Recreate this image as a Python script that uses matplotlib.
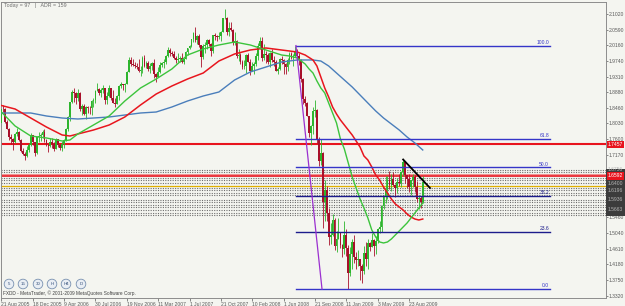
"""
GBPUSD weekly chart (MetaTrader screenshot look): candles, three moving
averages, a fibonacci retracement of the 2008 drop, S/R levels and a trendline.
"""

import numpy as np
import matplotlib.pyplot as plt
from matplotlib.patches import Rectangle, Circle
from matplotlib.transforms import blended_transform_factory

plt.rcParams["font.family"] = ["Liberation Sans", "DejaVu Sans"]

# weekly bars, index 0 = week of 21 Aug 2005
opens = [
    1.7960, 1.8040, 1.8420, 1.8410, 1.8080, 1.7890, 1.7650, 1.7610,
    1.7520, 1.7750, 1.7790, 1.7580, 1.7280, 1.7190, 1.7150, 1.7300,
    1.7450, 1.7700, 1.7510, 1.7220, 1.7670, 1.7690, 1.7700, 1.7790,
    1.7580, 1.7440, 1.7400, 1.7520, 1.7480, 1.7340, 1.7590, 1.7440,
    1.7370, 1.7470, 1.7570, 1.7870, 1.8210, 1.8620, 1.8890, 1.8870,
    1.8720, 1.8870, 1.8430, 1.8500, 1.8300, 1.8490, 1.8460, 1.8440,
    1.8650, 1.8680, 1.8920, 1.8970, 1.8860, 1.8930, 1.8990, 1.8660,
    1.8780, 1.8990, 1.8720, 1.8590, 1.8560, 1.8790, 1.9040, 1.9100,
    1.9080, 1.9110, 1.9440, 1.9770, 1.9640, 1.9630, 1.9610, 1.9580,
    1.9450, 1.9500, 1.9830, 1.9600, 1.9670, 1.9510, 1.9610, 1.9670,
    1.9380, 1.9310, 1.9430, 1.9630, 1.9680, 1.9700, 1.9870, 2.0030,
    1.9960, 1.9930, 1.9820, 1.9760, 1.9780, 1.9810, 1.9700, 1.9800,
    1.9990, 2.0080, 2.0140, 2.0330, 2.0510, 2.0300, 2.0410, 2.0160,
    1.9850, 2.0140, 2.0170, 2.0310, 2.0190, 2.0010, 2.0440, 2.0420,
    2.0380, 2.0420, 2.0530, 2.0900, 2.0910, 2.0520, 2.0640, 2.0580,
    2.0230, 2.0270, 1.9870, 1.9890, 1.9720, 1.9560, 1.9590, 1.9900,
    1.9720, 1.9450, 1.9590, 1.9650, 1.9860, 2.0150, 2.0290, 1.9820,
    1.9940, 1.9900, 1.9720, 1.9950, 1.9750, 1.9700, 1.9470, 1.9510,
    1.9800, 1.9750, 1.9660, 1.9570, 1.9770, 1.9930, 1.9810, 1.9860,
    1.9980, 1.9880, 1.9770, 1.9250, 1.8700, 1.8600, 1.8230, 1.7770,
    1.7970, 1.8370, 1.8390, 1.7590, 1.7000, 1.7220, 1.5880, 1.6200,
    1.5590, 1.4920, 1.4980, 1.5380, 1.4680, 1.4870, 1.5030, 1.4700,
    1.4600, 1.4970, 1.4630, 1.3950, 1.4460, 1.4790, 1.4390, 1.4290,
    1.4310, 1.4130, 1.3990, 1.4500, 1.4320, 1.4760, 1.4650, 1.4840,
    1.4680, 1.4820, 1.5150, 1.5200, 1.5780, 1.6030, 1.6200, 1.6470,
    1.6340, 1.6510, 1.6350, 1.6270, 1.6420, 1.6410, 1.6690, 1.6970,
    1.6610, 1.6510, 1.6300, 1.6470, 1.6560, 1.6290, 1.5960, 1.5980,
    1.5880,
]
highs = [
    1.8080, 1.8440, 1.8535, 1.8450, 1.8120, 1.7900, 1.7740, 1.7620,
    1.7780, 1.7910, 1.7810, 1.7600, 1.7350, 1.7260, 1.7400, 1.7500,
    1.7780, 1.7720, 1.7530, 1.7690, 1.7790, 1.7760, 1.7840, 1.7870,
    1.7600, 1.7480, 1.7620, 1.7630, 1.7520, 1.7620, 1.7600, 1.7480,
    1.7550, 1.7600, 1.7900, 1.8220, 1.8620, 1.8950, 1.9000, 1.8880,
    1.8960, 1.8900, 1.8560, 1.8560, 1.8510, 1.8500, 1.8500, 1.8680,
    1.8720, 1.8930, 1.9130, 1.8990, 1.8990, 1.9080, 1.8990, 1.8880,
    1.9080, 1.9000, 1.8950, 1.8720, 1.8810, 1.9090, 1.9150, 1.9110,
    1.9130, 1.9450, 1.9850, 1.9850, 1.9800, 1.9710, 1.9670, 1.9790,
    1.9590, 1.9880, 1.9910, 1.9740, 1.9730, 1.9680, 1.9710, 1.9780,
    1.9420, 1.9560, 1.9710, 1.9720, 1.9780, 1.9910, 2.0130, 2.0080,
    2.0010, 2.0000, 1.9870, 1.9960, 1.9880, 1.9950, 1.9830, 2.0000,
    2.0090, 2.0180, 2.0350, 2.0530, 2.0655, 2.0450, 2.0470, 2.0170,
    2.0190, 2.0260, 2.0330, 2.0330, 2.0230, 2.0440, 2.0500, 2.0440,
    2.0540, 2.0550, 2.0900, 2.1160, 2.0950, 2.0800, 2.0800, 2.0620,
    2.0520, 2.0310, 2.0050, 1.9960, 1.9760, 1.9760, 1.9920, 1.9960,
    1.9780, 1.9700, 1.9710, 1.9960, 2.0220, 2.0380, 2.0400, 2.0190,
    2.0010, 1.9960, 1.9990, 2.0060, 1.9880, 1.9750, 1.9580, 1.9830,
    1.9870, 1.9790, 1.9690, 1.9830, 1.9980, 1.9990, 1.9940, 2.0157,
    2.0070, 1.9950, 1.9800, 1.9270, 1.8780, 1.8610, 1.8240, 1.7990,
    1.8480, 1.8660, 1.8410, 1.7670, 1.7610, 1.7250, 1.6480, 1.6310,
    1.5710, 1.5300, 1.5550, 1.5440, 1.5100, 1.5450, 1.5050, 1.4740,
    1.5350, 1.5130, 1.4710, 1.4640, 1.4880, 1.4985, 1.4520, 1.4580,
    1.4330, 1.4180, 1.4670, 1.4780, 1.4860, 1.4780, 1.5030, 1.4860,
    1.4960, 1.5180, 1.5360, 1.5810, 1.6080, 1.6600, 1.6600, 1.6740,
    1.6650, 1.6700, 1.6370, 1.6530, 1.6650, 1.6740, 1.7043, 1.6990,
    1.6630, 1.6660, 1.6490, 1.6660, 1.6630, 1.6460, 1.6080, 1.6050,
    1.6600,
]
lows = [
    1.7930, 1.7950, 1.8350, 1.8050, 1.7870, 1.7580, 1.7480, 1.7310,
    1.7500, 1.7690, 1.7560, 1.7250, 1.7160, 1.7040, 1.7110, 1.7240,
    1.7420, 1.7450, 1.7150, 1.7180, 1.7510, 1.7560, 1.7640, 1.7520,
    1.7420, 1.7250, 1.7380, 1.7370, 1.7270, 1.7320, 1.7380, 1.7300,
    1.7280, 1.7350, 1.7560, 1.7810, 1.8100, 1.8580, 1.8620, 1.8560,
    1.8640, 1.8380, 1.8270, 1.8260, 1.8150, 1.8320, 1.8300, 1.8250,
    1.8470, 1.8590, 1.8920, 1.8800, 1.8740, 1.8860, 1.8570, 1.8560,
    1.8760, 1.8670, 1.8590, 1.8470, 1.8560, 1.8660, 1.9010, 1.8950,
    1.8880, 1.9100, 1.9430, 1.9600, 1.9590, 1.9550, 1.9520, 1.9440,
    1.9320, 1.9410, 1.9580, 1.9540, 1.9470, 1.9420, 1.9480, 1.9280,
    1.9150, 1.9310, 1.9420, 1.9570, 1.9550, 1.9640, 1.9850, 1.9860,
    1.9880, 1.9800, 1.9690, 1.9710, 1.9710, 1.9690, 1.9640, 1.9790,
    1.9900, 2.0050, 2.0130, 2.0250, 2.0260, 2.0200, 2.0130, 1.9580,
    1.9780, 1.9950, 2.0050, 2.0150, 1.9880, 1.9960, 2.0300, 2.0270,
    2.0330, 2.0270, 2.0530, 2.0870, 2.0440, 2.0410, 2.0560, 2.0180,
    2.0170, 1.9820, 1.9730, 1.9650, 1.9520, 1.9520, 1.9400, 1.9710,
    1.9360, 1.9450, 1.9380, 1.9590, 1.9750, 2.0050, 1.9730, 1.9770,
    1.9680, 1.9640, 1.9580, 1.9720, 1.9590, 1.9470, 1.9390, 1.9480,
    1.9640, 1.9380, 1.9370, 1.9460, 1.9650, 1.9780, 1.9610, 1.9840,
    1.9830, 1.9630, 1.9150, 1.8570, 1.8510, 1.8220, 1.7650, 1.7445,
    1.7740, 1.8200, 1.7500, 1.6870, 1.6880, 1.5170, 1.5360, 1.5360,
    1.4710, 1.4720, 1.4950, 1.4560, 1.4520, 1.4860, 1.4620, 1.4380,
    1.4450, 1.4400, 1.3503, 1.3870, 1.4050, 1.4220, 1.4050, 1.4130,
    1.3740, 1.3657, 1.3920, 1.4140, 1.4050, 1.4540, 1.4640, 1.4410,
    1.4460, 1.4750, 1.5030, 1.5050, 1.5700, 1.5850, 1.5960, 1.6250,
    1.6170, 1.6320, 1.6020, 1.6120, 1.6320, 1.6280, 1.6590, 1.6410,
    1.6260, 1.6150, 1.6060, 1.6280, 1.6160, 1.5880, 1.5700, 1.5705,
    1.5850,
]
closes = [
    1.8040, 1.8420, 1.8410, 1.8080, 1.7890, 1.7650, 1.7610, 1.7520,
    1.7750, 1.7790, 1.7580, 1.7280, 1.7190, 1.7150, 1.7300, 1.7450,
    1.7700, 1.7510, 1.7220, 1.7670, 1.7690, 1.7700, 1.7790, 1.7580,
    1.7440, 1.7400, 1.7520, 1.7480, 1.7340, 1.7590, 1.7440, 1.7370,
    1.7470, 1.7570, 1.7870, 1.8210, 1.8620, 1.8890, 1.8870, 1.8720,
    1.8870, 1.8430, 1.8500, 1.8300, 1.8490, 1.8460, 1.8440, 1.8650,
    1.8680, 1.8920, 1.8970, 1.8860, 1.8930, 1.8990, 1.8660, 1.8780,
    1.8990, 1.8720, 1.8590, 1.8560, 1.8790, 1.9040, 1.9100, 1.9080,
    1.9110, 1.9440, 1.9770, 1.9640, 1.9630, 1.9610, 1.9580, 1.9450,
    1.9500, 1.9830, 1.9600, 1.9670, 1.9510, 1.9610, 1.9670, 1.9380,
    1.9310, 1.9430, 1.9630, 1.9680, 1.9700, 1.9870, 2.0030, 1.9960,
    1.9930, 1.9820, 1.9760, 1.9780, 1.9810, 1.9700, 1.9800, 1.9990,
    2.0080, 2.0140, 2.0330, 2.0510, 2.0300, 2.0410, 2.0160, 1.9850,
    2.0140, 2.0170, 2.0310, 2.0190, 2.0010, 2.0440, 2.0420, 2.0380,
    2.0420, 2.0530, 2.0900, 2.0910, 2.0520, 2.0640, 2.0580, 2.0230,
    2.0270, 1.9870, 1.9890, 1.9720, 1.9560, 1.9590, 1.9900, 1.9720,
    1.9450, 1.9590, 1.9650, 1.9860, 2.0150, 2.0290, 1.9820, 1.9940,
    1.9900, 1.9720, 1.9950, 1.9750, 1.9700, 1.9470, 1.9510, 1.9800,
    1.9750, 1.9660, 1.9570, 1.9770, 1.9930, 1.9810, 1.9860, 1.9980,
    1.9880, 1.9770, 1.9250, 1.8700, 1.8600, 1.8230, 1.7770, 1.7970,
    1.8370, 1.8390, 1.7590, 1.7000, 1.7220, 1.5880, 1.6200, 1.5590,
    1.4920, 1.4980, 1.5380, 1.4680, 1.4870, 1.5030, 1.4700, 1.4600,
    1.4970, 1.4630, 1.3950, 1.4460, 1.4790, 1.4390, 1.4290, 1.4310,
    1.4130, 1.3990, 1.4500, 1.4320, 1.4760, 1.4650, 1.4840, 1.4680,
    1.4820, 1.5150, 1.5200, 1.5780, 1.6030, 1.6200, 1.6470, 1.6340,
    1.6510, 1.6350, 1.6270, 1.6420, 1.6410, 1.6690, 1.6970, 1.6610,
    1.6510, 1.6300, 1.6470, 1.6560, 1.6290, 1.5960, 1.5980, 1.5880,
    1.6420,
]

# moving averages (week index -> price)
green_weeks = [0, 8, 16, 24, 32, 36, 40, 48, 56, 64, 72, 80, 88, 96, 104,
               112, 120, 128, 136, 144, 148, 152, 156, 158, 160, 162, 164,
               166, 168, 170, 172, 174, 176, 178, 180, 182, 184, 186, 188,
               190, 192, 194, 196, 198, 200, 202, 204, 206, 208, 210, 212,
               214, 216]
green_ma = [1.8396, 1.7959, 1.7685, 1.7631, 1.7549, 1.7576, 1.7740, 1.7986,
            1.8232, 1.8642, 1.8997, 1.9243, 1.9517, 1.9899, 2.0063, 2.0173,
            2.0255, 2.0173, 2.0036, 1.9899, 1.9872, 1.9817, 1.9653, 1.9517,
            1.9407, 1.9189, 1.8997, 1.8861, 1.8587, 1.8314, 1.8041, 1.7603,
            1.7330, 1.6947, 1.6564, 1.6264, 1.5963, 1.5717, 1.5444, 1.5116,
            1.4925, 1.4788, 1.4761, 1.4788, 1.4870, 1.4979, 1.5088, 1.5198,
            1.5307, 1.5444, 1.5581, 1.5717, 1.5854]

red_weeks = [0, 8, 16, 24, 32, 36, 40, 48, 56, 64, 72, 80, 88, 96, 104, 112,
             120, 128, 136, 144, 152, 156, 160, 162, 164, 166, 168, 170, 172,
             174, 176, 178, 180, 182, 184, 186, 188, 190, 192, 194, 196, 198,
             200, 202, 204, 206, 208, 210, 212, 214, 216]
red_ma = [1.8533, 1.8423, 1.8177, 1.7931, 1.7713, 1.7685, 1.7740, 1.7849,
          1.7986, 1.8205, 1.8533, 1.8833, 1.9052, 1.9243, 1.9407, 1.9735,
          1.9927, 2.0036, 2.0091, 2.0036, 1.9981, 1.9899, 1.9763, 1.9599,
          1.9298, 1.8997, 1.8751, 1.8478, 1.8287, 1.8123, 1.7986, 1.7849,
          1.7713, 1.7549, 1.7385, 1.7139, 1.7029, 1.6838, 1.6619, 1.6483,
          1.6291, 1.6127, 1.5963, 1.5827, 1.5745, 1.5663, 1.5553, 1.5471,
          1.5416, 1.5389, 1.5416]

blue_weeks = [0, 8, 16, 24, 32, 40, 48, 56, 64, 72, 80, 88, 96, 104, 112,
              120, 128, 136, 144, 152, 160, 164, 168, 172, 176, 180, 184,
              188, 192, 196, 200, 204, 208, 212, 216]
blue_ma = [1.8314, 1.8314, 1.8314, 1.8232, 1.8177, 1.8150, 1.8177, 1.8205,
           1.8259, 1.8314, 1.8341, 1.8478, 1.8642, 1.8779, 1.8888, 1.9216,
           1.9435, 1.9571, 1.9708, 1.9763, 1.9763, 1.9735, 1.9599, 1.9407,
           1.9216, 1.9025, 1.8806, 1.8587, 1.8369, 1.8177, 1.8013, 1.7849,
           1.7658, 1.7494, 1.7303]

# fibonacci retracement: Jul 2008 high -> Jan 2009 low
fib_high = 2.0157
fib_low = 1.3503
fib_levels = [100.0, 61.8, 50.0, 38.2, 23.6, 0.0]

# horizontal lines drawn on the chart
red_level = 1.7457
red_level2 = 1.6592
yellow_level = 1.6332
sr_levels = [1.6756, 1.6688, 1.6537, 1.6469, 1.6400, 1.6264, 1.6196,
             1.6127, 1.6059, 1.5936, 1.5868, 1.5799, 1.5731, 1.5663,
             1.5594, 1.5539]

# trendline off the Aug 2009 high
trend_x = [206, 219.7]
trend_y = [1.7043, 1.6264]

# axis labels
price_ticks = [2.1020, 2.0590, 2.0160, 1.9740, 1.9310, 1.8880, 1.8460,
               1.8030, 1.7600, 1.7170, 1.5460, 1.5040, 1.4610, 1.4180,
               1.3750, 1.3320]
date_weeks = [0, 17, 33, 49, 65, 81, 97, 113, 129, 145, 161, 177, 193, 209]
date_labels = ["21 Aug 2005", "18 Dec 2005", "9 Apr 2006", "30 Jul 2006",
               "19 Nov 2006", "11 Mar 2007", "1 Jul 2007", "21 Oct 2007",
               "10 Feb 2008", "1 Jun 2008", "21 Sep 2008", "11 Jan 2009",
               "3 May 2009", "23 Aug 2009"]
box_labels = ["1.6756", "1.6400", "1.6196", "1.5936", "1.5663"]

BG = "#f4f5f0"
BULL = "#2db52d"
BEAR = "#a8102a"
FS = 3.6

W, H = 625, 306
fig = plt.figure(figsize=(W / 100, H / 100), dpi=100)
fig.patch.set_facecolor(BG)
ax = fig.add_axes([1 / W, 8 / H, 605 / W, 296 / H])
ax.set_facecolor(BG)
XMIN, XMAX = 0.82, 309.5
ax.set_xlim(XMIN, XMAX)
ax.set_ylim(1.3257, 2.1348)

for sp in ax.spines.values():
    sp.set_color("#8c8c8c")
    sp.set_linewidth(0.7)
    sp.set_linestyle((0, (1, 1)))

# horizontal levels (behind the candles)
for lv in sr_levels:
    ax.axhline(lv, color="#6e6e6e", lw=0.8, ls=(0, (1, 1.2)), zorder=1)
ax.axhline(yellow_level, color="#e0b000", lw=0.9, zorder=1)
ax.axhline(red_level2 + 0.0055, color="#f08080", lw=0.6, zorder=1)
ax.axhline(red_level2, color="#e8141e", lw=1.2, zorder=1)
ax.axhline(red_level, color="#e8141e", lw=1.5, zorder=1)

# candles
x = np.arange(len(closes))
o = np.array(opens)
c = np.array(closes)
cols = np.where(c >= o, BULL, BEAR)
ax.vlines(x, lows, highs, colors=cols, lw=0.6, zorder=2)
body = np.maximum(np.abs(c - o), 0.0018)
ax.bar(x, body, bottom=np.minimum(o, c), width=0.9, color=cols,
       linewidth=0, zorder=3)

# moving averages
ax.plot(blue_weeks, blue_ma, color="#4a7ebb", lw=1.0, zorder=4)
ax.plot(red_weeks, red_ma, color="#e8161e", lw=1.1, zorder=4)
ax.plot(green_weeks, green_ma, color="#3cc43c", lw=1.0, zorder=4)

# fibonacci retracement
fib_x0, fib_x1 = 151.3, 280.9
for lvl in fib_levels:
    price = fib_low + (fib_high - fib_low) * lvl / 100.0
    col = "#1c1c8c" if lvl in (38.2, 23.6) else "#3535c8"
    ax.plot([fib_x0, fib_x1], [price, price], color=col, lw=1.0, zorder=5)
    ax.text(fib_x1 - 0.5, price + 0.002, f"{lvl:.1f}", color=col,
            fontsize=3.6, ha="right", va="bottom", zorder=6)
ax.plot([fib_x0, 164.6], [fib_high, fib_low], color="#9b30d0", lw=0.9,
        zorder=5)

ax.plot(trend_x, trend_y, color="#000000", lw=1.3, zorder=6)

# price scale on the right
ax.yaxis.tick_right()
ax.set_yticks(price_ticks)
ax.set_yticklabels([f"{v:.4f}" for v in price_ticks])
ax.tick_params(axis="y", labelsize=FS, colors="#5a5a5a", length=1.5,
               width=0.5, pad=0.3)

# date scale
ax.set_xticks([max(w, XMIN + 0.05) for w in date_weeks])
ax.set_xticklabels(date_labels, ha="left")
ax.tick_params(axis="x", labelsize=FS, colors="#5a5a5a", length=2,
               width=0.5, pad=1.0)

# labels of the drawn lines on the price scale
tr = blended_transform_factory(ax.transAxes, ax.transData)
ax.add_patch(Rectangle((1.0, 1.5498), 0.04, 1.6783 - 1.5498, transform=tr,
                       facecolor="#3c3c3c", edgecolor="none", clip_on=False,
                       zorder=7))
for lbl in box_labels:
    ax.text(1.003, float(lbl), lbl, transform=tr, fontsize=FS,
            color="#b4b4b4", va="center", ha="left", clip_on=False, zorder=8)
for lv, txt in [(red_level, "1.7457"), (red_level2, "1.6592")]:
    ax.text(1.003, lv, txt, transform=tr, fontsize=FS, color="white",
            va="center", ha="left", clip_on=False, zorder=9,
            bbox=dict(facecolor="#e8141e", edgecolor="none", pad=0.8))

# overlay in pixel coordinates for the screen decorations
ov = fig.add_axes([0, 0, 1, 1], facecolor="none")
ov.set_xlim(0, W)
ov.set_ylim(H, 0)
ov.axis("off")
ov.text(4, 6, "Today = 97   |   ADR = 159", fontsize=3.8, color="#707070",
        va="center", ha="left")
for bx, name in zip([9, 23, 38, 52, 66, 81], ["5", "15", "30", "H", "H4", "D"]):
    ov.add_patch(Circle((bx, 284), 4.8, facecolor="#e9eef4",
                        edgecolor="#7890b0", lw=0.6))
    ov.text(bx, 284, name, fontsize=3.2, color="#34507a", ha="center",
            va="center")
ov.text(3, 293, "FXDD - MetaTrader, \u00a9 2001-2009 MetaQuotes Software Corp.",
        fontsize=3.4, color="#404040", va="center", ha="left")

fig.savefig("out.png", dpi=100, facecolor=BG)
